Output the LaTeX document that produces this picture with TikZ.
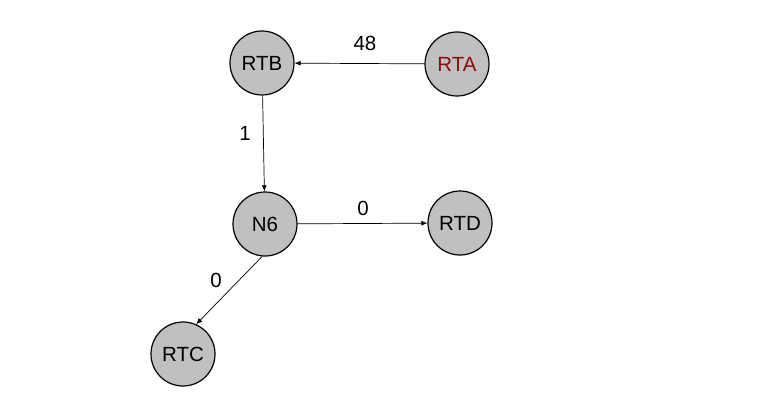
\documentclass[tikz,border=0pt]{standalone}
\usepackage{fontspec}
\setmainfont{Liberation Sans}
\usepackage{tikz}
\usetikzlibrary{arrows.meta}

\definecolor{nodegray}{RGB}{192,192,192}
\definecolor{rtared}{RGB}{140,10,10}

\begin{document}
\begin{tikzpicture}[x=1pt,y=-1pt,
            router/.style={circle,draw=black,line width=1.2pt,fill=nodegray,minimum size=64pt,inner sep=0pt,font=\fontsize{20.5}{24}\selectfont},
            link/.style={-{Latex[length=6pt,width=5pt]},line width=0.7pt,black},
            cost/.style={font=\fontsize{20.5}{24}\selectfont}]
            \useasboundingbox (0,0) rectangle (780,420);
            \node[router] (rtb) at (262,63) {RTB};
            \node[router,text=rtared] (rta) at (457,64) {RTA};
            \node[router] (n6) at (265,224) {N6};
            \node[router] (rtd) at (460,223) {RTD};
            \node[router] (rtc) at (183,354) {RTC};
            \draw[link] (rta) -- (rtb);
            \node[cost] (c48) at (365,43) {48};
            \draw[link] (rtb) -- (n6);
            \node[cost] (c1) at (245,133) {1};
            \draw[link] (n6) -- (rtd);
            \node[cost] (c0a) at (363,208) {0};
            \draw[link] (n6.265) -- (rtc.66);
            \node[cost] (c0b) at (216,280) {0};
        \end{tikzpicture}
\end{document}
